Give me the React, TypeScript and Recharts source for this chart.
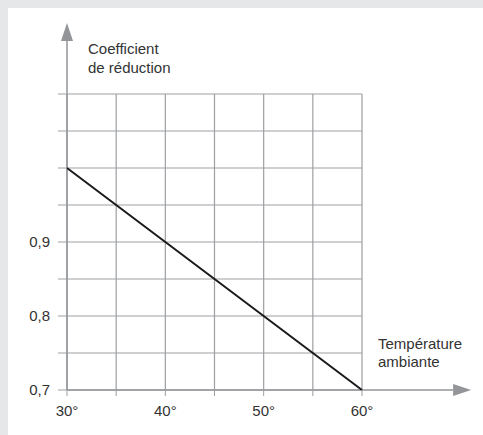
import { LineChart, Line, XAxis, YAxis, CartesianGrid, ReferenceLine } from 'recharts';

const temperatures = [30, 35, 40, 45, 50, 55, 60];
const coefficients = [1.0, 0.95, 0.9, 0.85, 0.8, 0.75, 0.7];
const yTicks = [0.7, 0.75, 0.8, 0.85, 0.9, 0.95, 1.0, 1.05, 1.1];
const yLabelled = [0.7, 0.8, 0.9];
const xLabelled = [30, 40, 50, 60];

// how far the axis arrows run past the grid (data units)
const yArrowTop = 1.196;
const xArrowEnd = 71.1;

const data = temperatures.map((t, i) => ({ t, c: coefficients[i] }));

const GRID = '#9d9fa2';
const AXIS = '#939598';
const TEXT = '#333333';
const FONT = '"Liberation Sans", Arial, sans-serif';

const fmtY = (v: number) =>
  yLabelled.some((l) => Math.abs(l - v) < 1e-6) ? v.toFixed(1).replace('.', ',') : '';
const fmtX = (v: number) => (xLabelled.includes(v) ? `${v}°` : '');

const Arrow = (p: any) => {
  const { x1, y1, x2, y2 } = p;
  const len = Math.hypot(x2 - x1, y2 - y1) || 1;
  const ux = (x2 - x1) / len;
  const uy = (y2 - y1) / len;
  const bx = x2 - ux * 18;
  const by = y2 - uy * 18;
  const nx = -uy;
  const ny = ux;
  return (
    <g>
      <line x1={x1} y1={y1} x2={bx} y2={by} stroke={AXIS} strokeWidth={1.5} />
      <polygon
        points={`${x2},${y2} ${bx + nx * 6},${by + ny * 6} ${bx - nx * 6},${by - ny * 6}`}
        fill={AXIS}
      />
    </g>
  );
};

export default function App() {
  return (
    <div style={{ position: 'fixed', left: 0, top: 0, width: 483, height: 435, background: '#e6e7e8' }}>
      <div style={{ position: 'absolute', left: 8, top: 8, width: 475, height: 427, background: '#fff' }}>
        <LineChart
          width={475}
          height={427}
          data={data}
          margin={{ top: 86, right: 121, left: 0, bottom: 15 }}
          style={{ fontFamily: FONT }}
        >
          <CartesianGrid stroke={GRID} strokeWidth={1.2} />
          <XAxis
            dataKey="t"
            type="number"
            domain={[30, 60]}
            ticks={temperatures}
            interval={0}
            height={30}
            tickSize={6}
            tickMargin={9}
            axisLine={false}
            tickLine={{ stroke: GRID }}
            tickFormatter={fmtX}
            tick={{ fill: TEXT, fontSize: 15 }}
          />
          <YAxis
            type="number"
            domain={[0.7, 1.1]}
            ticks={yTicks}
            interval={0}
            width={59}
            tickSize={9}
            tickMargin={8}
            axisLine={false}
            tickLine={{ stroke: GRID }}
            tickFormatter={fmtY}
            tick={{ fill: TEXT, fontSize: 15 }}
          />
          <ReferenceLine
            segment={[{ x: 30, y: 0.7 }, { x: 30, y: yArrowTop }]}
            ifOverflow="visible"
            shape={Arrow}
          />
          <ReferenceLine
            segment={[{ x: 30, y: 0.7 }, { x: xArrowEnd, y: 0.7 }]}
            ifOverflow="visible"
            shape={Arrow}
          />
          <Line
            dataKey="c"
            stroke="#1a1a1a"
            strokeWidth={2}
            dot={false}
            activeDot={false}
            isAnimationActive={false}
          />
          <text x={80} y={46} fill={TEXT} fontSize={15} fontFamily={FONT}>
            Coefficient
          </text>
          <text x={80} y={65} fill={TEXT} fontSize={15} fontFamily={FONT}>
            de réduction
          </text>
          <text x={370} y={341} fill={TEXT} fontSize={15} fontFamily={FONT}>
            Température
          </text>
          <text x={370} y={359} fill={TEXT} fontSize={15} fontFamily={FONT}>
            ambiante
          </text>
        </LineChart>
      </div>
    </div>
  );
}
